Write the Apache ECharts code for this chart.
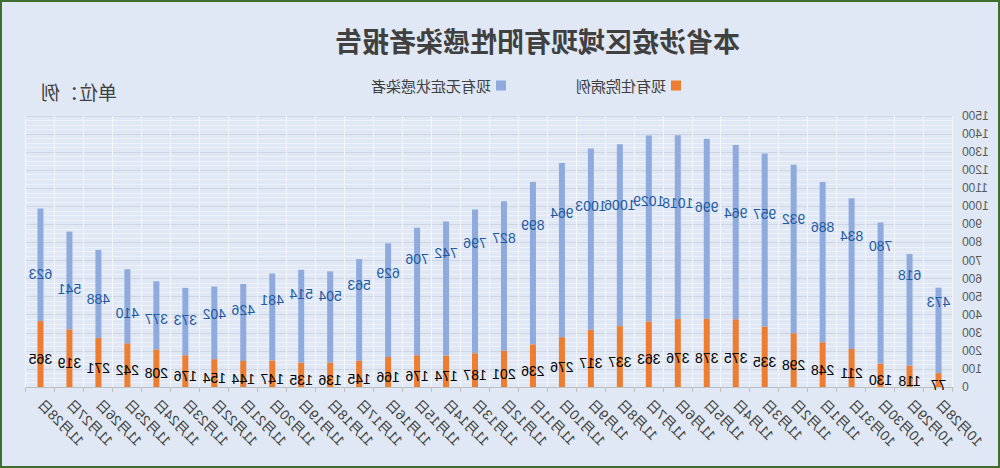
<!DOCTYPE html>
<html lang="zh">
<head>
  <meta charset="UTF-8">
  <style>
    body { margin: 0; }
    #wrap { position: relative; width: 1000px; height: 468px; transform: scaleX(-1); }
    #chart { width: 1000px; height: 468px; }
    #frame { position: absolute; left: 0; top: 0; width: 1000px; height: 468px;
      box-sizing: border-box; border: 2px solid #3f6f31; pointer-events: none; }
  </style>
  <title>本省涉疫区域现有阳性感染者报告</title>
</head>
<body>
  <div id="wrap">
    <div id="chart"></div>
    <div id="frame"></div>
  </div>
  <script src="https://cdn.jsdelivr.net/npm/echarts@6/dist/echarts.min.js"></script>
  <script>
    // dates 10/28 .. 11/28
    var days = ['10月28日', '10月29日', '10月30日', '10月31日', '11月1日', '11月2日', '11月3日', '11月4日',
      '11月5日', '11月6日', '11月7日', '11月8日', '11月9日', '11月10日', '11月11日', '11月12日',
      '11月13日', '11月14日', '11月15日', '11月16日', '11月17日', '11月18日', '11月19日', '11月20日',
      '11月21日', '11月22日', '11月23日', '11月24日', '11月25日', '11月26日', '11月27日', '11月28日'];
    // 现有住院病例
    var inHospital = [77, 118, 130, 211, 248, 298, 335, 375, 378, 376, 363, 337, 317, 276, 236, 201,
      187, 174, 176, 166, 145, 136, 135, 147, 144, 154, 176, 208, 242, 271, 319, 365];
    // 现有无症状感染者
    var noSymptom = [473, 618, 780, 834, 886, 932, 957, 964, 996, 1018, 1029, 1006, 1003, 964, 899, 827,
      796, 742, 706, 629, 563, 504, 514, 481, 426, 402, 373, 377, 410, 488, 541, 623];

    var font = 'Liberation Sans, Noto Sans CJK SC, sans-serif';
    var chart = echarts.init(document.getElementById('chart'), null, { renderer: 'svg' });
    chart.setOption({
      animation: false,
      backgroundColor: '#dfe8f4',
      textStyle: { fontFamily: font },
      title: {
        text: '本省涉疫区域现有阳性感染者报告',
        left: 255,
        top: 22,
        textStyle: { fontSize: 27, fontWeight: 'bold', color: '#404040', fontFamily: 'Noto Sans CJK SC' }
      },
      legend: {
        data: ['现有住院病例', '现有无症状感染者'],
        left: 314,
        top: 73,
        itemWidth: 10,
        itemHeight: 10,
        itemGap: 70,
        icon: 'rect',
        textStyle: { fontSize: 15, color: '#404040', fontFamily: 'Noto Sans CJK SC' }
      },
      graphic: [{
        type: 'text',
        left: 883,
        top: 82,
        style: { text: '单位：例', fontSize: 19, fill: '#404040', fontFamily: 'Noto Sans CJK SC' }
      }],
      grid: { left: 47, right: 26, top: 116, bottom: 81 },
      xAxis: {
        type: 'category',
        data: days,
        axisLine: { lineStyle: { color: '#bfbfbf' } },
        axisTick: { show: true, interval: 0, length: 5, lineStyle: { color: '#bfbfbf' } },
        splitLine: { show: true, interval: 0, lineStyle: { color: '#f3f6fb', width: 1 } },
        axisLabel: { interval: 0, rotate: 45, margin: 15, fontSize: 14, color: '#404040', fontFamily: font }
      },
      yAxis: {
        type: 'value',
        min: 0,
        max: 1500,
        interval: 100,
        axisLine: { show: false },
        axisTick: { show: false },
        axisLabel: { fontSize: 12, color: '#595959', margin: 9, formatter: function (v) { return String(v); } },
        splitLine: { lineStyle: { color: '#cfd6e2' } },
        minorTick: { show: false, splitNumber: 4 },
        minorSplitLine: { show: true, lineStyle: { color: '#eef2f8' } }
      },
      series: [
        {
          name: '现有住院病例',
          type: 'bar',
          stack: 'all',
          barWidth: 6,
          data: inHospital,
          itemStyle: { color: '#ed7d31' },
          label: { show: true, position: 'inside', offset: [0, 5], color: '#000', fontSize: 14 }
        },
        {
          name: '现有无症状感染者',
          type: 'bar',
          stack: 'all',
          barWidth: 6,
          data: noSymptom,
          itemStyle: { color: '#8faadc' }
        },
        {
          // blue labels sit at the 无症状 value itself, like the original
          name: 'noSymptomLabel',
          type: 'scatter',
          data: noSymptom,
          symbolSize: 1,
          silent: true,
          itemStyle: { color: 'rgba(0,0,0,0)' },
          label: {
            show: true, position: 'inside', color: '#1f5aa3', fontSize: 14,
            opacity: 1, textBorderWidth: 0
          },
          z: 5
        }
      ]
    });
  </script>
</body>
</html>
